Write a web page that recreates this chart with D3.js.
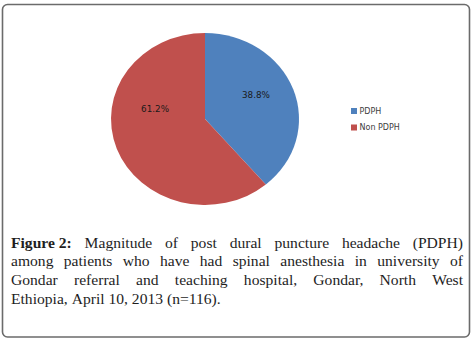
<!DOCTYPE html>
<html>
<head>
<meta charset="utf-8">
<script src="https://cdn.jsdelivr.net/npm/d3@7"></script>
<style>
  html, body { margin: 0; padding: 0; background: #fff; }
  svg { display: block; }
</style>
</head>
<body>
<svg width="471" height="343"></svg>
<script>
// ---- Dados
const categorias = ['PDPH', 'Non PDPH'];
const valores = [38.8, 61.2];
const cores = ['#4F81BD', '#C0504D'];

const legenda = categorias;
const linhasLegenda = [
    ['Figure 2:', 'Magnitude', 'of', 'post', 'dural', 'puncture', 'headache', '(PDPH)'],
    ['among', 'patients', 'who', 'have', 'had', 'spinal', 'anesthesia', 'in', 'university', 'of'],
    ['Gondar', 'referral', 'and', 'teaching', 'hospital,', 'Gondar,', 'North', 'West'],
    ['Ethiopia,', 'April', '10,', '2013', '(n=116).']
];

const svg = d3.select('svg');

// ---- Moldura
svg.append('rect')
    .attr('x', 2.5)
    .attr('y', 4.5)
    .attr('width', 467)
    .attr('height', 332.5)
    .attr('rx', 5)
    .attr('fill', 'none')
    .attr('stroke', '#6b6b6b')
    .attr('stroke-width', 1.6);

// ---- Pizza
const cx = 205, cy = 119;
const raio = 86;
const esticaX = 94 / 86;

const pie = d3.pie().sort(null).value(d => d)(valores);
const arc = d3.arc().innerRadius(0).outerRadius(raio);

const g = svg.append('g')
    .attr('transform', `translate(${cx}, ${cy}) scale(${esticaX}, 1)`);

g.selectAll('path')
    .data(pie)
    .enter()
    .append('path')
    .attr('d', arc)
    .attr('fill', (d, i) => cores[i]);

// rotulos percentuais (posicao perto do centroide, ajustada como no Excel)
const arcRotulo = d3.arc().innerRadius(raio * 0.6).outerRadius(raio * 0.6);
const ajuste = [[-2, -6], [3, -28]];

svg.append('g')
    .selectAll('text')
    .data(pie)
    .enter()
    .append('text')
    .attr('x', (d, i) => cx + arcRotulo.centroid(d)[0] * esticaX + ajuste[i][0])
    .attr('y', (d, i) => cy + arcRotulo.centroid(d)[1] + ajuste[i][1])
    .attr('text-anchor', 'middle')
    .attr('dominant-baseline', 'central')
    .style('font-family', 'DejaVu Sans, sans-serif')
    .style('font-size', '8.8px')
    .attr('fill', '#1a1a1a')
    .text(d => d.data.toFixed(1) + '%');

// ---- Legenda
const leg = svg.append('g')
    .attr('transform', 'translate(351, 111)');

const item = leg.selectAll('g')
    .data(legenda)
    .enter()
    .append('g')
    .attr('transform', (d, i) => `translate(0, ${i * 16.5})`);

item.append('rect')
    .attr('x', 0)
    .attr('y', -3)
    .attr('width', 6)
    .attr('height', 6)
    .attr('fill', (d, i) => cores[i]);

item.append('text')
    .attr('x', 8.5)
    .attr('y', 0)
    .attr('dominant-baseline', 'central')
    .style('font-family', 'DejaVu Sans, sans-serif')
    .style('font-size', '8px')
    .attr('fill', '#404040')
    .text(d => d);

// ---- Legenda da figura (texto justificado)
const xIni = 11, xFim = 463;
const yIni = 247.5, passo = 18.8;

const cap = svg.append('g')
    .style('font-family', 'Liberation Serif, serif')
    .style('font-size', '15.6px')
    .attr('fill', '#1e1e1e');

linhasLegenda.forEach((palavras, li) => {
    const nodes = palavras.map(p => cap.append('text')
        .attr('y', yIni + li * passo)
        .style('font-weight', p.startsWith('Figure') ? 'bold' : null)
        .text(p));
    const larguras = nodes.map(n => n.node().getComputedTextLength());
    const total = d3.sum(larguras);
    const ultima = li === linhasLegenda.length - 1;
    const espaco = ultima ? 3.9 : (xFim - xIni - total) / (palavras.length - 1);
    let x = xIni;
    nodes.forEach((n, i) => {
        n.attr('x', x);
        x += larguras[i] + espaco;
    });
});
</script>
</body>
</html>
